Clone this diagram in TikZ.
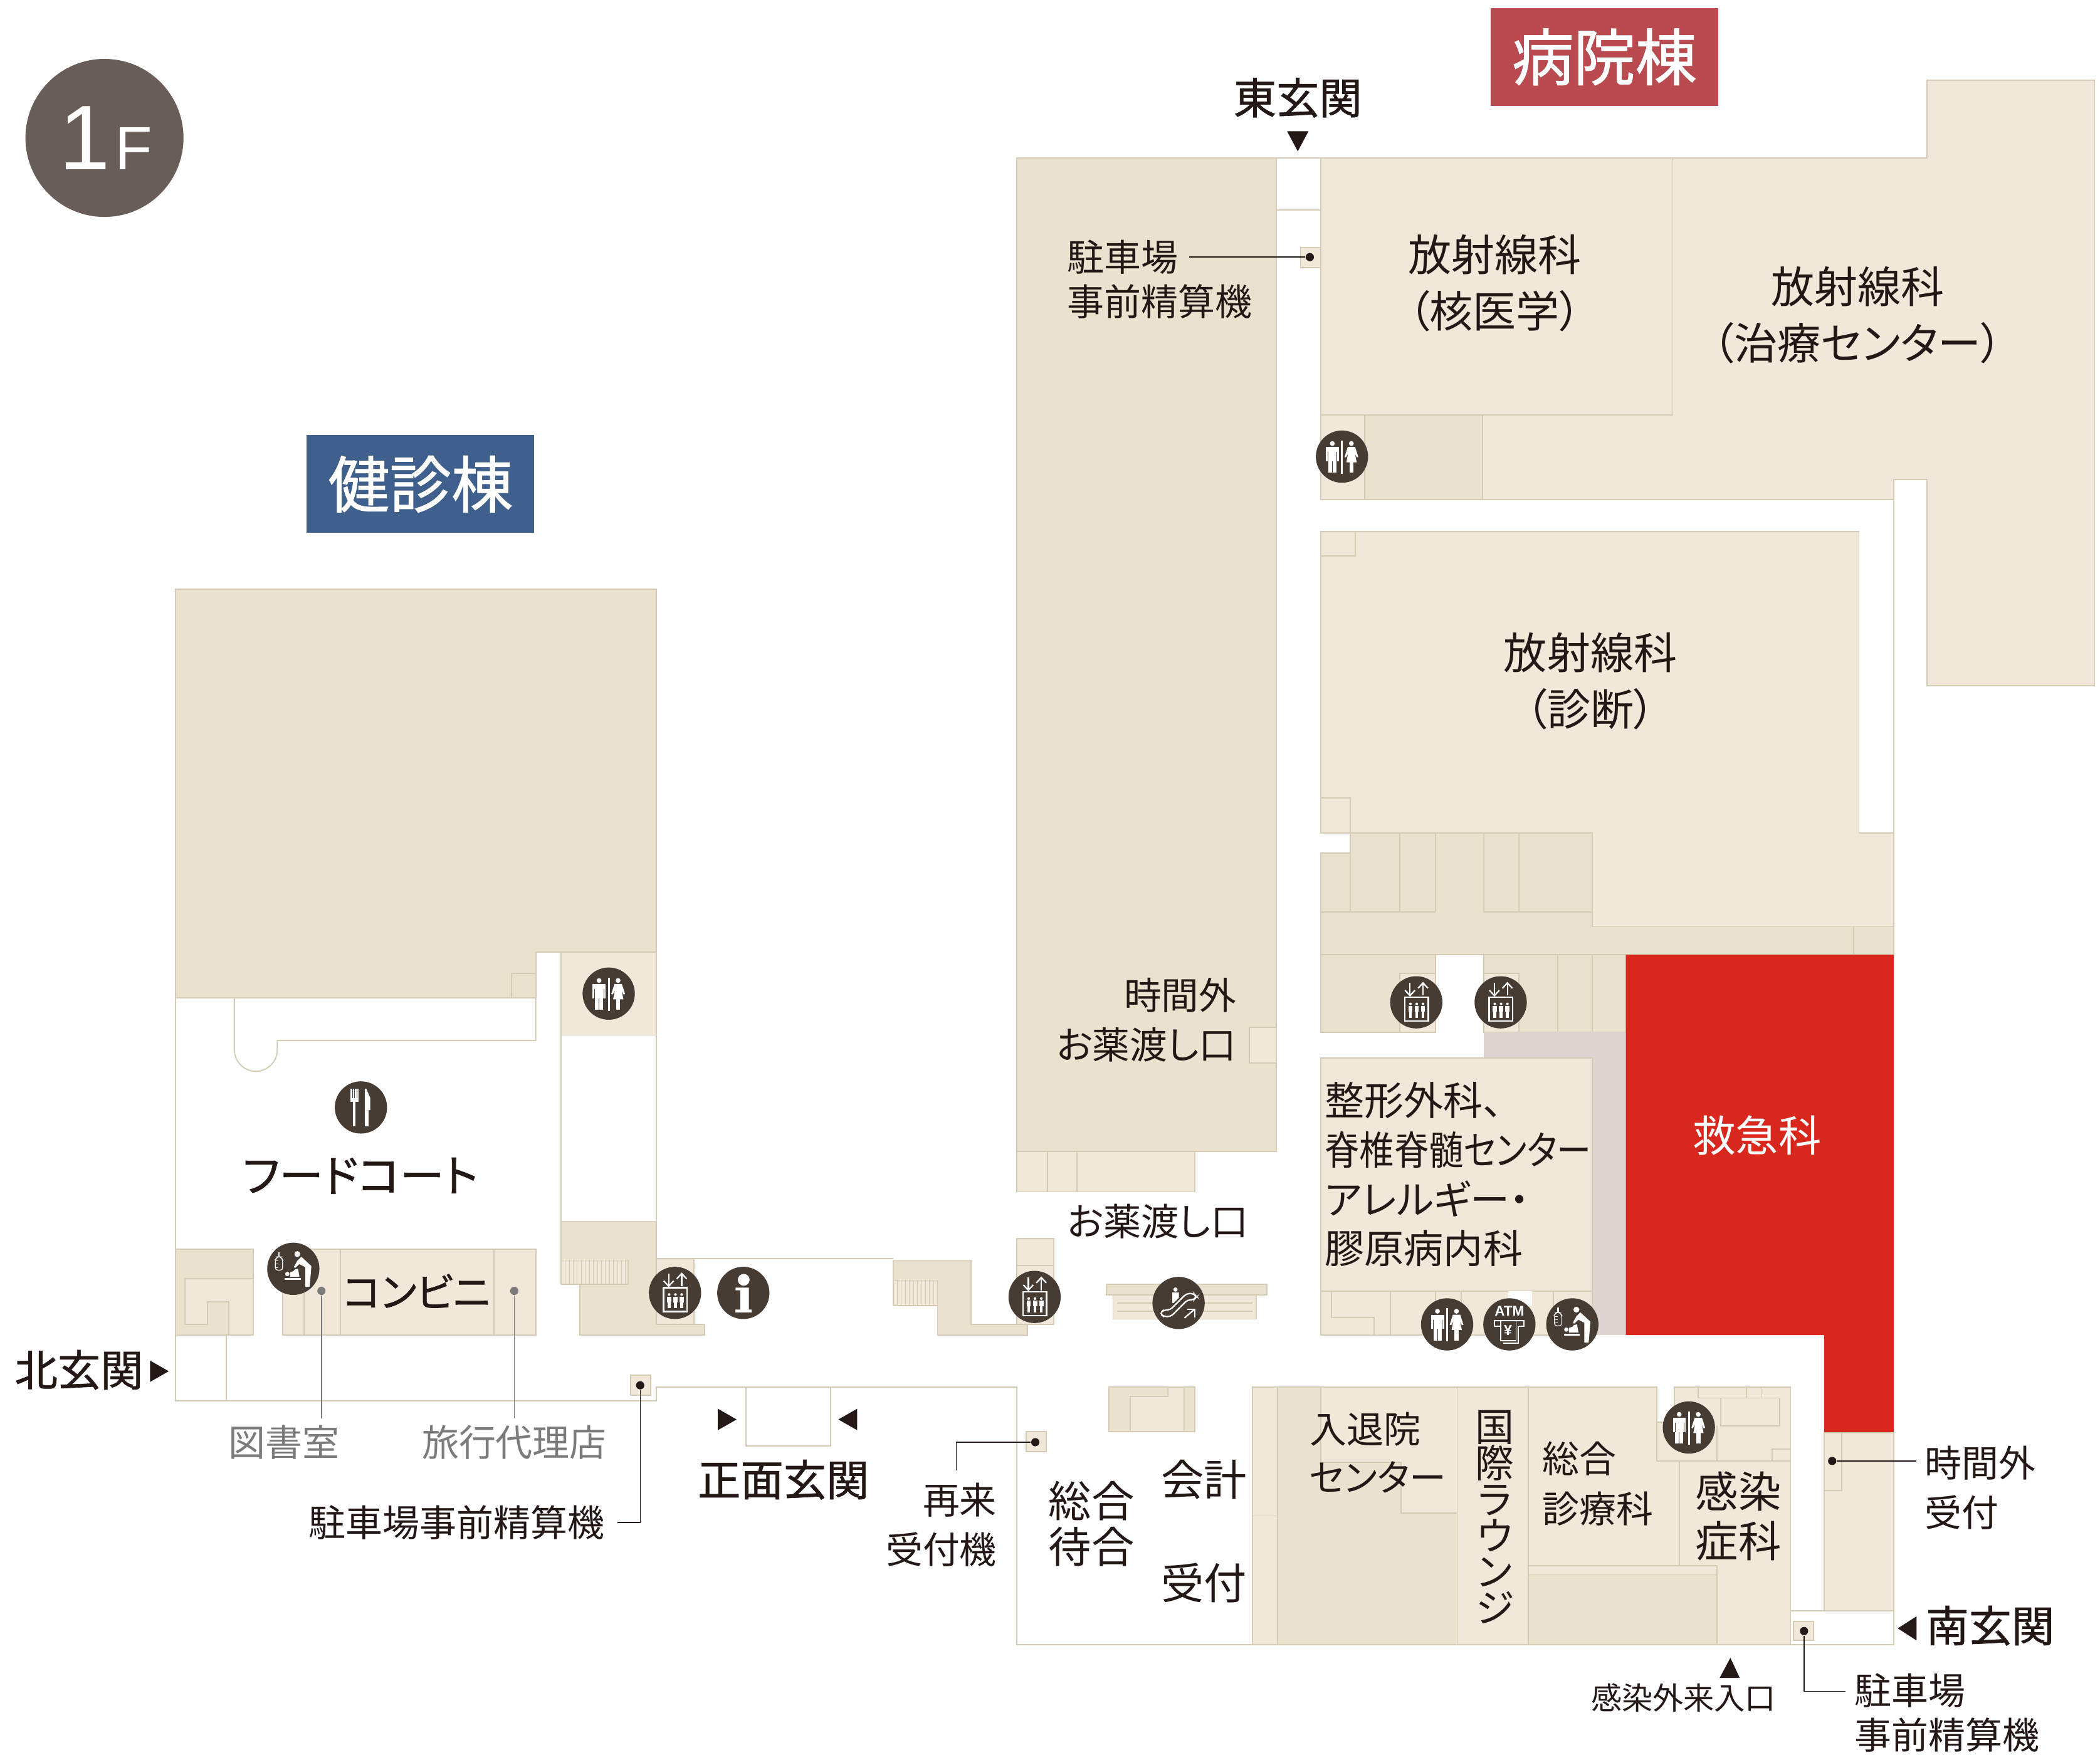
\documentclass[tikz,border=0pt]{standalone}
\usepackage{fontspec}
\setmainfont{Noto Sans CJK JP}[RawFeature=+palt]
\newfontfamily\medfont{Noto Sans CJK JP}[RawFeature=+palt,FakeBold=1]
\newfontfamily\latinf{Liberation Sans}
\usepackage{tikz}
\usetikzlibrary{positioning}

\definecolor{roomdark}{HTML}{EAE2CF}
\definecolor{roomlight}{HTML}{F1E8DA}
\definecolor{wallc}{HTML}{D6CCB6}
\definecolor{icondark}{HTML}{463C34}
\definecolor{ink}{HTML}{231815}
\definecolor{inkgray}{HTML}{7B7B7B}
\definecolor{erred}{HTML}{D8271C}
\definecolor{hallgray}{HTML}{DDD5D2}
\definecolor{hdred}{HTML}{B94A50}
\definecolor{hdblue}{HTML}{3F608C}
\definecolor{floorc}{HTML}{685D57}

\tikzset{
	wall/.style={draw=wallc,line width=0.5pt},
	rooma/.style={wall,fill=roomdark},
	roomb/.style={wall,fill=roomlight},
	lbl/.style 2 args={font=\fontsize{#1}{#2}\selectfont,text=ink,inner sep=0pt,align=center},
	lblm/.style 2 args={font=\medfont\fontsize{#1}{#2}\selectfont,text=ink,inner sep=0pt,align=center},
	lblleft/.style 2 args={lbl={#1}{#2},align=left},
	lblgray/.style={lbl={15.7}{20},text=inkgray},
	heading/.style={font=\medfont\fontsize{26.2}{30}\selectfont,text=white,minimum width=3.4cm,minimum height=1.46cm,inner sep=0pt},
	tri/.style={fill=ink},
	paydot/.style={circle,fill=ink,inner sep=0pt,minimum size=3.5pt},
	leader/.style={draw=ink,line width=0.4pt},
	leadergray/.style={draw=inkgray,line width=0.4pt},
	graydot/.style={circle,fill=inkgray,inner sep=0pt,minimum size=3.5pt},
	icw/.style={fill=white,draw=none},
	wcpic/.pic={
		\fill[icondark] (0,0) circle [radius=19.5];
		\draw[white,line width=0.8pt] (0,-12)--(0,12.8);
		% man
		\fill[icw] (-7.2,-9.8) circle [radius=1.8];
		\fill[icw] (-12,-7.2) rectangle (-2.2,3.4);
		\fill[icw] (-10.2,3) rectangle (-4.2,12);
		\draw[icondark,line width=0.2pt] (-7.2,3.4)--(-7.2,12);
		\draw[icondark,line width=0.2pt] (-10.4,-3.5)--(-10.4,3.4);
		\draw[icondark,line width=0.2pt] (-3.8,-3.5)--(-3.8,3.4);
		% woman
		\fill[icw] (7,-9.8) circle [radius=1.8];
		\fill[icw] (4.3,-7.2)--(9.8,-7.2)--(12.2,0.3)--(11,0.6)--(9.6,-2.5)--(11,4.2)--(3.3,4.2)--(4.6,-2.5)--(3,0.6)--(1.9,0.3)--cycle;
		\fill[icw] (5.5,4) rectangle (8.6,12);
	},
	elevpic/.pic={
		\fill[icondark] (0,0) circle [radius=19.5];
		\draw[white,line width=0.6pt] (-4.7,-14.5)--(-4.7,-5.3);
		\draw[white,line width=0.6pt] (-8.4,-9)--(-4.7,-5)--(-1,-9);
		\draw[white,line width=0.6pt] (5,-5)--(5,-14.2);
		\draw[white,line width=0.6pt] (1.3,-10.5)--(5,-14.5)--(8.7,-10.5);
		\draw[white,line width=0.7pt] (-8.6,-3.9) rectangle (8.9,14);
		\foreach \x in {-4.4,0.3,5} {
			\fill[icw] (\x,1.2) circle [radius=1];
			\fill[icw] (\x-1.6,2.7) rectangle (\x+1.6,7);
			\fill[icw] (\x-1.1,7) rectangle (\x+1.1,11.4);
		}
	},
	forkpic/.pic={
		\fill[icondark] (0,0) circle [radius=19.5];
		\fill[icw] (-8,-14) rectangle (-2,-4);
		\foreach \x in {-6.4,-4.7,-3.2} {\draw[icondark,line width=0.2pt] (\x,-14)--(\x,-7);}
		\fill[icw] (-6,-5) rectangle (-4,14);
		\fill[icw] (3,-14)--(4,-14)--(7,-7)--(7,2)--(5.6,2)--(5.6,14)--(3,14)--cycle;
	},
	infopic/.pic={
		\fill[icondark] (0,0) circle [radius=19.5];
		\fill[icw] (0.3,-9.8) circle [radius=4.4];
		\fill[icw] (-5.8,-3.9)--(4.2,-3.9)--(4.2,12.5)--(6.2,12.5)--(6.2,14.5)--(-5.9,14.5)--(-5.9,12.5)--(-2.3,12.5)--(-2.3,-1.9)--(-5.8,-1.9)--cycle;
	},
	babypic/.pic={
		\fill[icondark] (0,0) circle [radius=19.5];
		\draw[white,line width=0.3pt,rounded corners=1pt] (-13.4,-7)--(-13.4,1)--(-8,1)--(-8,-7)--(-9.6,-9)--(-11.8,-9)--cycle;
		\fill[icw] (-11.3,-12.5) rectangle (-10.1,-9);
		\foreach \y in {-6,-3.5,-1} {\draw[white,line width=0.3pt] (-13.4,\y)--(-11,\y);}
		\fill[icw] (3,-11) circle [radius=2.2];
		\fill[icw] (6,-9)--(13.5,-2)--(12.2,13.5)--(9,13.5)--(9,-1.2)--(4.4,-3.5)--(1.3,-0.5)--(0.5,-1.5)--(3,-6)--cycle;
		\fill[icw] (-4.5,3.9) circle [radius=1.6];
		\fill[icw] (-2.5,2.6)--(0,1.8)--(1.2,0.5)--(3.5,0)--(4.6,6)--(-2.5,6)--cycle;
		\fill[icw] (-6.4,6.9) rectangle (5.6,8.2);
	},
	atmpic/.pic={
		\fill[icondark] (0,0) circle [radius=19.5];
		\node[text=white,font=\latinf\bfseries\fontsize{6}{7}\selectfont,inner sep=0pt] (atmtxt) at (0,-9.8) {ATM};
		\draw[white,line width=0.5pt] (-7,1.6)--(-11,1.6)--(-11,-3)--(11,-3)--(11,1.6)--(7,1.6);
		\draw[white,line width=0.5pt] (-6.5,-3)--(-6.5,12)--(5,12)--(5,-3);
		\draw[white,line width=0.5pt] (-4.7,14)--(6.7,14)--(6.7,1.6);
		\node[text=white,font=\latinf\bfseries\fontsize{6.2}{7}\selectfont,inner sep=0pt] (atmyen) at (-1,4.5) {¥};
	},
	escpic/.pic={
		\fill[icondark] (0,0) circle [radius=19.5];
		\fill[icw] (-2.3,-10) circle [radius=1.6];
		\fill[icw] (-4.7,-7.8)--(0.2,-7.8)--(0.2,-3.9)--(-3.6,0)--(-4.7,0)--cycle;
		\draw[white,line width=0.6pt,rounded corners=1.2pt] (-11.2,5.4)--(-6.2,5.1)--(5.9,-7)--(11.4,-7)--(13.4,-4.7)--(11.4,-2.3)--(6.7,-2.3)--(-5.8,10.1)--(-11.2,10.1)--(-14,7.8)--cycle;
		\draw[white,line width=0.6pt] (4.4,11.2)--(12,4.7);
		\draw[white,line width=0.6pt] (6.7,4.7)--(12,4.7)--(12,11);
	},
}

\begin{document}
\begin{tikzpicture}[x=0.02cm,y=-0.02cm]
	\useasboundingbox (0,0) rectangle (1568,1314);
	\fill[white] (0,0) rectangle (1568,1314);

	% north wing
	\draw[rooma] (131,440)--(490,440)--(490,711)--(400,711)--(400,745)--(131,745)--cycle;
	\draw[wall] (382,745)--(382,727)--(400,727);
	\draw[wall] (131,745)--(131,1046)--(490,1046)--(490,1036)--(759,1036)--(759,1228)--(935,1228);
	\draw[wall] (175,745)--(175,784) arc [start angle=180,end angle=0,radius=16]--(207,777)--(400,777)--(400,745);
	\draw[roomb] (419,711) rectangle (490,773);
	\draw[wall] (419,773) rectangle (490,912);
	\draw[wall] (490,940)--(667,940);
	\draw[rooma] (419,912)--(490,912)--(490,989)--(526,989)--(526,997)--(433,997)--(433,959)--(419,959)--cycle;
	\draw[roomb] (419,941) rectangle (469,959);
	\foreach \x in {422,425,...,467} {\draw[wallc,line width=0.2pt] (\x,941)--(\x,959);}
	\draw[roomb] (490,940) rectangle (518,989);
	\draw[rooma] (667,941)--(725,941)--(725,989)--(767,989)--(767,997)--(700,997)--(700,975)--(667,975)--cycle;
	\draw[roomb] (667,956) rectangle (700,975);
	\foreach \x in {670,673,...,697} {\draw[wallc,line width=0.2pt] (\x,956)--(\x,975);}
	\draw[rooma] (131,933) rectangle (189,997);
	\draw[roomb] (138,955)--(189,955)--(189,997)--(171,997)--(171,972)--(155,972)--(155,989)--(138,989)--cycle;
	\draw[roomb] (211,933) rectangle (400,997);
	\draw[wall] (227,933)--(227,997);
	\draw[wall] (254,933)--(254,997);
	\draw[wall] (369,933)--(369,997);
	\draw[wall] (169,997)--(169,1046);
	\draw[wall] (557,1036)--(557,1080)--(620,1080)--(620,1036);
	\draw[roomb] (471,1027) rectangle (486,1042);

	% center wing
	\draw[rooma] (759,118) rectangle (953,860);
	\draw[roomb] (933,767) rectangle (953,794);
	\draw[roomb] (759,860) rectangle (892,890);
	\draw[wall] (782,860)--(782,890);
	\draw[wall] (804,860)--(804,890);
	\draw[roomb] (759,925) rectangle (787,945);
	\draw[roomb] (759,945) rectangle (787,989);
	\draw[roomb] (831,967) rectangle (938,985);
	\draw[wall] (834,973)--(935,973);
	\draw[wall] (834,979)--(935,979);
	\draw[rooma] (826,959) rectangle (946,967);
	\draw[wall] (953,118)--(986,118);
	\draw[wall] (953,157)--(986,157);

	% east wing
	\draw[roomb] (986,118)--(1439,118)--(1439,60)--(1564,60)--(1564,512)--(1439,512)--(1439,358)--(1414,358)--(1414,373)--(986,373)--cycle;
	\draw[wall] (986,310)--(1249,310)--(1249,118);
	\draw[rooma] (1019,310) rectangle (1107,373);
	\draw[roomb] (971,185) rectangle (986,200);
	\draw[wall] (1414,358)--(1414,622);
	\draw[roomb] (986,397)--(1388,397)--(1388,622)--(1414,622)--(1414,692)--(1189,692)--(1189,622)--(986,622)--cycle;
	\draw[wall] (986,415)--(1012,415)--(1012,397);
	\draw[wall] (986,596)--(1008,596)--(1008,622);
	\draw[rooma] (986,637)--(1008,637)--(1008,622)--(1189,622)--(1189,692)--(1414,692)--(1414,713)--(986,713)--cycle;
	\draw[wall] (1008,637)--(1008,681);
	\draw[wall] (1045,622)--(1045,681);
	\draw[wall] (1072,622)--(1072,681);
	\draw[wall] (1108,622)--(1108,681);
	\draw[wall] (1134,622)--(1134,681);
	\draw[wall] (986,681)--(1072,681);
	\draw[wall] (1108,681)--(1189,681);
	\draw[wall] (1384,692)--(1384,713);
	\draw[rooma] (986,713) rectangle (1072,771);
	\draw[roomb] (1045,727) rectangle (1072,771);
	\draw[rooma] (1108,713) rectangle (1214,771);
	\draw[roomb] (1108,727) rectangle (1134,771);
	\draw[wall] (1163,713)--(1163,771);
	\draw[wall] (1189,713)--(1189,771);
	\fill[hallgray] (1108,771) rectangle (1214,997);
	\fill[erred] (1214,713)--(1414,713)--(1414,1070)--(1362,1070)--(1362,997)--(1214,997)--cycle;
	\draw[roomb] (986,790) rectangle (1189,964);
	\draw[roomb] (986,964) rectangle (1189,997);
	\fill[white] (1126,964.3) rectangle (1144,975);
	\draw[wall] (994,964)--(994,984)--(1026,984)--(1026,997);
	\draw[wall] (1038,964)--(1038,997);
	\draw[wall] (1072,964)--(1072,997);
	\draw[wall] (1091,964)--(1091,997);
	\draw[wall] (1160,964)--(1160,997);

	% south block
	\draw[rooma] (828,1036) rectangle (892,1069);
	\draw[roomb] (844,1069)--(844,1043)--(872,1043)--(872,1036)--(884,1036)--(884,1069)--cycle;
	\draw[roomb] (935,1036)--(1237,1036)--(1237,1062)--(1250,1062)--(1250,1036)--(1337,1036)--(1337,1228)--(935,1228)--cycle;
	\draw[wall] (1237,1062)--(1237,1091)--(1337,1091);
	\draw[wall] (935,1132)--(954,1132);
	\draw[rooma] (954,1036)--(986,1036)--(986,1092)--(1046,1092)--(1046,1130)--(1088,1130)--(1088,1228)--(954,1228)--cycle;
	\draw[wall] (1088,1036)--(1088,1228);
	\draw[wall] (1141,1036)--(1141,1228);
	\draw[wall] (1254,1091)--(1254,1169);
	\draw[wall] (1141,1169)--(1282,1169);
	\draw[rooma] (1141,1176) rectangle (1282,1228);
	\draw[wall] (1282,1169)--(1282,1176);
	\draw[wall] (1282,1065)--(1282,1091);
	\draw[wall] (1285,1044) rectangle (1329,1065);
	\draw[wall] (1268,1036)--(1268,1044)--(1304,1044)--(1304,1036);
	\draw[wall] (1315,1036)--(1315,1044);
	\draw[wall] (1323,1091)--(1323,1082)--(1337,1082);
	\draw[roomb] (1362,1070) rectangle (1414,1203);
	\draw[wall] (1362,1113)--(1375,1113)--(1375,1070);
	\draw[wall] (1337,1203) rectangle (1414,1228);
	\draw[roomb] (1339,1211) rectangle (1354,1225);
	\draw[roomb] (766,1069) rectangle (781,1084);

	% entrance marks
	\fill[tri] (961,98)--(977,98)--(969,113)--cycle;
	\fill[tri] (112,1016)--(126,1024)--(112,1032)--cycle;
	\fill[tri] (536,1052)--(550,1060)--(536,1068)--cycle;
	\fill[tri] (640,1052)--(626,1060)--(640,1068)--cycle;
	\fill[tri] (1431,1207)--(1417,1216)--(1431,1225)--cycle;
	\fill[tri] (1292,1238)--(1299,1253)--(1284,1253)--cycle;

	% floor mark and wing names
	\fill[floorc] (78,103) circle [radius=59];
	\node[text=white,font=\latinf\fontsize{39}{40}\selectfont,inner sep=0pt,anchor=base] (floornum) at (63.5,126.7) {1};
	\node[text=white,font=\latinf\fontsize{26}{28}\selectfont,inner sep=0pt,anchor=base] (floorf) at (100,126.7) {F};
	\node[heading,fill=hdred] (hospwing) at (1198,42.5) {病院棟};
	\node[heading,fill=hdblue] (checkwing) at (314,361.5) {健診棟};

	% labels
	\node[lblm={18.2}{20}] (eastgate) at (969,73) {東玄関};
	\node[lblm={18.2}{20}] (northgate) at (59,1023) {北玄関};
	\node[lblm={18.2}{20}] (maingate) at (585,1105) {正面玄関};
	\node[lblm={18.2}{20}] (southgate) at (1486,1214) {南玄関};
	\node[lbl={18.4}{24}] (rad1) at (1116,211.5) {放射線科\\（核医学）};
	\node[lbl={18.4}{24}] (rad2) at (1387,235.5) {放射線科\\（治療センター）};
	\node[lbl={18.4}{24}] (rad3) at (1187.5,508.5) {放射線科\\（診断）};
	\node[lblleft={15.7}{18.8},anchor=west] (pay1txt) at (796.5,208.5) {駐車場\\事前精算機};
	\node[lbl={15.9}{21},align=right,anchor=east] (drugafter) at (923.5,761.5) {時間外\\お薬渡し口};
	\node[lbl={16}{20}] (druglbl) at (864.5,912) {お薬渡し口};
	\node[lblm={18.8}{20}] (foodlbl) at (269,878) {フードコート};
	\node[lblm={17}{20}] (storelbl) at (311,964) {コンビニ};
	\node[lblgray] (liblbl) at (212,1077) {図書室};
	\node[lblgray] (travlbl) at (384,1077) {旅行代理店};
	\node[lbl={15.7}{20}] (pay2txt) at (341,1137) {駐車場事前精算機};
	\node[lbl={15.7}{21},align=right,anchor=east] (revisit) at (744.5,1138.5) {再来\\受付機};
	\node[lbl={18.2}{19.5}] (waitlbl) at (815,1138) {総合\\待合};
	\node[lbl={18.2}{20}] (acctlbl) at (899,1105) {会計};
	\node[lbl={18.2}{20}] (reclbl) at (899,1182) {受付};
	\node[lbl={15.7}{20.5},align=left,anchor=west] (admit) at (977.5,1085) {入退院\\センター};
	\node[lbl={16.5}{15.4}] (lounge) at (1116,1133) {国\\際\\ラ\\ウ\\ン\\ジ};
	\node[lblleft={15.7}{21.5},anchor=west] (genlbl) at (1151.5,1108) {総合\\診療科};
	\node[lbl={18.2}{21}] (inflbl) at (1298,1132) {感染\\症科};
	\node[lblleft={16.8}{21},anchor=west] (ortholbl) at (989,877) {整形外科、\\\scalebox{0.875}[1]{脊椎脊髄センター}\\アレルギー・\\膠原病内科};
	\node[lbl={18.2}{20},text=white] (erlbl) at (1312,848) {救急科};
	\node[lblleft={15.7}{21},anchor=west] (nightlbl) at (1437,1111) {時間外\\受付};
	\node[lbl={13.1}{15}] (infgate) at (1257,1268) {感染外来入口};
	\node[lblleft={15.7}{18.8},anchor=west] (pay3txt) at (1384.5,1279) {駐車場\\事前精算機};

	% leaders
	\node[paydot] (pay1) at (978,192) {};
	\coordinate (pay1end) at (888,192);
	\draw[leader] (pay1end)--(pay1);
	\node[paydot] (pay2) at (478,1034.5) {};
	\coordinate (pay2end) at (461,1137);
	\draw[leader] (pay2)|-(pay2end);
	\node[paydot] (pay3) at (773,1077) {};
	\coordinate (pay3end) at (714,1098);
	\draw[leader] (pay3)-|(pay3end);
	\node[paydot] (pay4) at (1347,1218) {};
	\coordinate (pay4end) at (1378,1263);
	\draw[leader] (pay4)|-(pay4end);
	\node[paydot] (night) at (1368,1091) {};
	\coordinate (nightend) at (1431,1091);
	\draw[leader] (night)--(nightend);
	\node[graydot] (libdot) at (240,964) {};
	\coordinate (libend) at (240,1059);
	\draw[leadergray] (libdot)--(libend);
	\node[graydot] (travdot) at (384,964) {};
	\coordinate (travend) at (384,1059);
	\draw[leadergray] (travdot)--(travend);

	% icons
	\pic at (1002,341) {wcpic};
	\pic at (454.5,742) {wcpic};
	\pic at (1080.5,989) {wcpic};
	\pic at (1261,1066) {wcpic};
	\pic at (269.5,827) {forkpic};
	\pic at (219,947.5) {babypic};
	\pic at (1174,989) {babypic};
	\pic at (504,965.5) {elevpic};
	\pic at (772.5,968.5) {elevpic};
	\pic at (1057.5,748.5) {elevpic};
	\pic at (1120.5,748.5) {elevpic};
	\pic at (555,965.5) {infopic};
	\pic at (1127,989) {atmpic};
	\pic at (880,973) {escpic};
\end{tikzpicture}
\end{document}
